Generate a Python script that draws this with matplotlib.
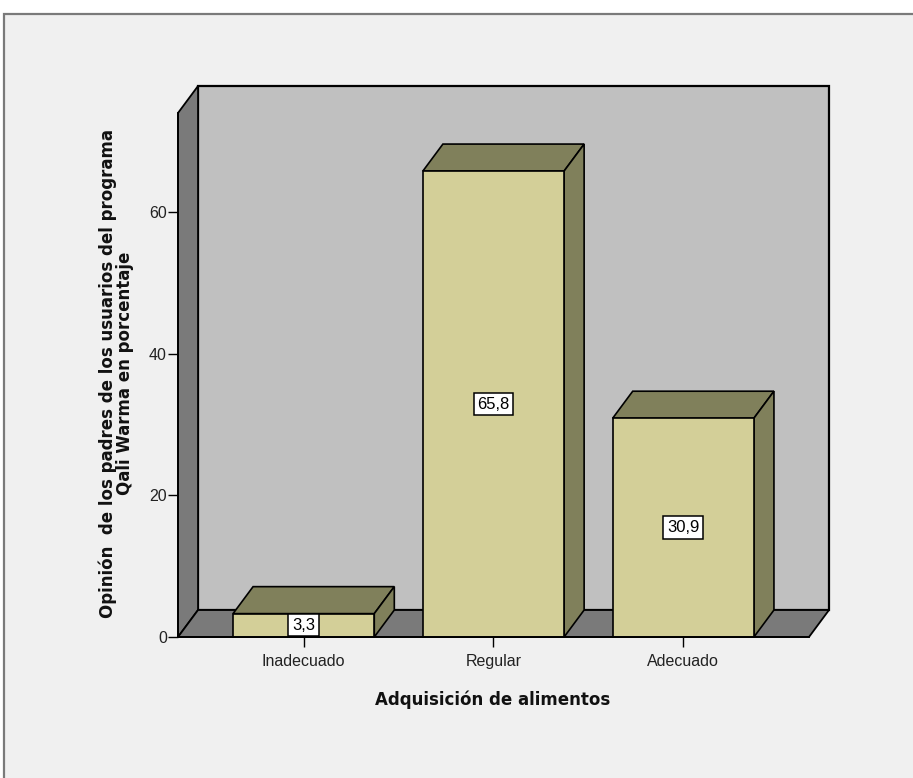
#!/usr/bin/env python3
"""Bar chart (pseudo-3D, SPSS style) of parents' opinion on the Qali Warma
programme, food acquisition dimension. Writes out.png."""

import matplotlib.pyplot as plt
from matplotlib.patches import Polygon, Rectangle

categorias = ["Inadecuado", "Regular", "Adecuado"]
porcentajes = [3.3, 65.8, 30.9]
etiquetas = ["3,3", "65,8", "30,9"]
y_ticks = [0, 20, 40, 60]

# box geometry (data units: x in categories, y in percent)
X_LEFT = -0.662
X_RIGHT = 2.662
Y_TOP = 74.0
DX = 0.1055   # depth offset, horizontal
DY = 3.81     # depth offset, vertical
BAR_W = 0.744

WALL_BACK = "#c0c0c0"
WALL_SIDE = "#7a7a7a"
BAR_FRONT = "#d3cf98"
BAR_SHADE = "#80805b"
EDGE = "black"

W_PX, H_PX = 913, 778


def main() -> None:
    fig = plt.figure(figsize=(W_PX / 100, H_PX / 100), dpi=100)
    fig.patch.set_facecolor("white")

    # outer chart frame
    frame = Rectangle((4 / W_PX, -0.05), 1.2, (H_PX - 14) / H_PX + 0.05,
                      transform=fig.transFigure, facecolor="#f0f0f0",
                      edgecolor="#7a7a7a", linewidth=1.6, zorder=-10)
    fig.patches.append(frame)

    ax = fig.add_axes([178 / W_PX, (H_PX - 637) / H_PX,
                       (829 - 178) / W_PX, (637 - 86) / H_PX])
    ax.set_facecolor("none")
    ax.set_xlim(X_LEFT, X_RIGHT + DX)
    ax.set_ylim(0, Y_TOP + DY)

    # --- walls and floor ---
    ax.add_patch(Rectangle((X_LEFT + DX, DY), X_RIGHT - X_LEFT, Y_TOP,
                           facecolor=WALL_BACK, edgecolor=EDGE, linewidth=1.6,
                           zorder=1, clip_on=False))
    ax.add_patch(Polygon([(X_LEFT, 0), (X_LEFT + DX, DY),
                          (X_LEFT + DX, Y_TOP + DY), (X_LEFT, Y_TOP)],
                         closed=True, facecolor=WALL_SIDE, edgecolor=EDGE,
                         linewidth=1.3, zorder=2, clip_on=False))
    ax.add_patch(Polygon([(X_LEFT, 0), (X_RIGHT, 0), (X_RIGHT + DX, DY),
                          (X_LEFT + DX, DY)],
                         closed=True, facecolor=WALL_SIDE, edgecolor=EDGE,
                         linewidth=1.3, zorder=2, clip_on=False))

    # --- bars ---
    for i, (v, lab) in enumerate(zip(porcentajes, etiquetas)):
        x0 = i - BAR_W / 2
        x1 = i + BAR_W / 2
        ax.add_patch(Rectangle((x0, 0), BAR_W, v, facecolor=BAR_FRONT,
                               edgecolor=EDGE, linewidth=1.2, zorder=4,
                               clip_on=False))
        ax.add_patch(Polygon([(x0, v), (x1, v), (x1 + DX, v + DY),
                              (x0 + DX, v + DY)],
                             closed=True, facecolor=BAR_SHADE, edgecolor=EDGE,
                             linewidth=1.2, zorder=3, clip_on=False))
        ax.add_patch(Polygon([(x1, 0), (x1 + DX, DY), (x1 + DX, v + DY),
                              (x1, v)],
                             closed=True, facecolor=BAR_SHADE, edgecolor=EDGE,
                             linewidth=1.2, zorder=3, clip_on=False))
        ax.text(i, v / 2, lab, ha="center", va="center", fontsize=12,
                family="Liberation Sans", color="black", zorder=6,
                bbox=dict(boxstyle="square,pad=0.22", facecolor="white",
                          edgecolor="black", linewidth=1.1))

    # --- axes ---
    for side in ("top", "right"):
        ax.spines[side].set_visible(False)
    ax.spines["left"].set_bounds(0, Y_TOP)
    ax.spines["bottom"].set_bounds(X_LEFT, X_RIGHT)
    for side in ("left", "bottom"):
        ax.spines[side].set_linewidth(1.3)
        ax.spines[side].set_zorder(5)

    ax.set_yticks(y_ticks)
    ax.set_yticklabels([str(t) for t in y_ticks])
    ax.set_xticks(range(len(categorias)))
    ax.set_xticklabels(categorias)
    ax.tick_params(axis="y", direction="out", length=7, width=1.0, pad=1,
                   labelsize=11.5, labelcolor="#222222")
    ax.tick_params(axis="x", direction="out", length=7, width=1.0, pad=5,
                   labelsize=11.5, labelcolor="#222222")
    for lbl in ax.get_xticklabels() + ax.get_yticklabels():
        lbl.set_family("Liberation Sans")

    fig.text(493 / W_PX, 1 - 700 / H_PX, "Adquisición de alimentos",
             ha="center", va="center", fontsize=12, fontweight="bold",
             family="DejaVu Sans", color="#111111")
    fig.text(116 / W_PX, 1 - 373 / H_PX,
             "Opinión  de los padres de los usuarios del programa\n"
             "Qali Warma en porcentaje",
             ha="center", va="center", rotation=90, fontsize=12,
             fontweight="bold", family="DejaVu Sans", color="#111111",
             linespacing=0.95, multialignment="center")

    fig.savefig("out.png", dpi=100)
    plt.close(fig)


if __name__ == "__main__":
    main()
